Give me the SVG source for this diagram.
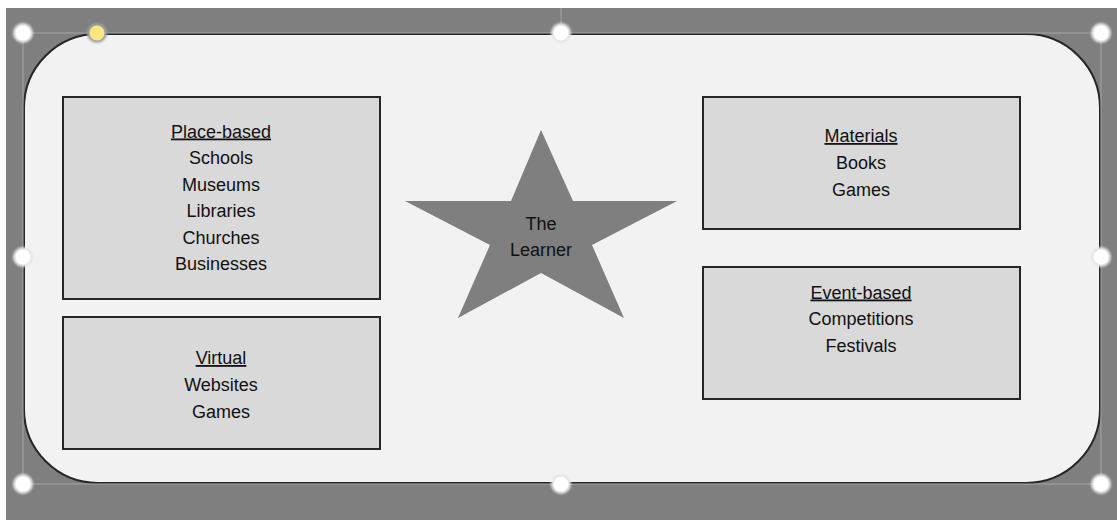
<svg xmlns="http://www.w3.org/2000/svg" width="1117" height="520" viewBox="0 0 1117 520">
<defs>
<style>
.box{fill:#d9d9d9;stroke:#262626;stroke-width:2}
.t{font-family:"Liberation Sans",Arial,sans-serif;font-size:18px;fill:#111;text-anchor:middle}
.u{text-decoration:underline}
.sel{stroke:#a6a6a6;stroke-width:1;fill:none}
</style>
<filter id="glow" x="-50%" y="-50%" width="200%" height="200%"><feGaussianBlur stdDeviation="1"/></filter>
</defs>
<rect x="0" y="0" width="1117" height="520" fill="#fff"/>
<rect x="6" y="8" width="1111" height="512" fill="#7f7f7f"/>
<g id="frame">
<rect x="24" y="34" width="1076" height="449" rx="74" ry="74" fill="#f2f2f2" stroke="#262626" stroke-width="2"/>
</g>
<g id="place-based">
<rect class="box" x="63" y="97" width="317" height="202"/>
<text class="t" x="221" y="137.5"><tspan class="u">Place-based</tspan><tspan x="221" y="164">Schools</tspan><tspan x="221" y="190.5">Museums</tspan><tspan x="221" y="217">Libraries</tspan><tspan x="221" y="243.5">Churches</tspan><tspan x="221" y="270">Businesses</tspan></text>
</g>
<g id="virtual">
<rect class="box" x="63" y="317" width="317" height="132"/>
<text class="t" x="221" y="364"><tspan class="u">Virtual</tspan><tspan x="221" y="390.5">Websites</tspan><tspan x="221" y="418">Games</tspan></text>
</g>
<g id="materials">
<rect class="box" x="703" y="97" width="317" height="132"/>
<text class="t" x="861" y="142"><tspan class="u">Materials</tspan><tspan x="861" y="168.5">Books</tspan><tspan x="861" y="196">Games</tspan></text>
</g>
<g id="event-based">
<rect class="box" x="703" y="267" width="317" height="132"/>
<text class="t" x="861" y="298.5"><tspan class="u">Event-based</tspan><tspan x="861" y="325">Competitions</tspan><tspan x="861" y="351.5">Festivals</tspan></text>
</g>
<g id="learner">
<polygon points="541,130 573,201 677,201 592,245 624,318 541,273 458,318 490,245 405,201 511,201" fill="#7f7f7f"/>
<text class="t" x="541" y="230">The<tspan x="541" y="256">Learner</tspan></text>
</g>
<g id="connectors"></g>
<g id="selection">
<path class="sel" d="M23,33H1101V484H23Z M561,8V33"/>
<g filter="url(#glow)" fill="#e6e6e6">
<circle cx="23" cy="33" r="10"/><circle cx="561" cy="33" r="10"/><circle cx="1101" cy="33" r="10"/>
<circle cx="23" cy="257" r="10"/><circle cx="1101" cy="257" r="10"/>
<circle cx="23" cy="484" r="10"/><circle cx="561" cy="484" r="10"/><circle cx="1101" cy="484" r="10"/>
<circle cx="97" cy="33" r="10" fill="#a0a0a0"/>
</g>
<g fill="#fff">
<circle cx="23" cy="33" r="7.5"/><circle cx="561" cy="33" r="7.5"/><circle cx="1101" cy="33" r="7.5"/>
<circle cx="23" cy="257" r="7.5"/><circle cx="1101" cy="257" r="7.5"/>
<circle cx="23" cy="484" r="7.5"/><circle cx="561" cy="484" r="7.5"/><circle cx="1101" cy="484" r="7.5"/>
</g>
<circle cx="97" cy="33" r="7.5" fill="#ffe680"/>
</g>
</svg>
